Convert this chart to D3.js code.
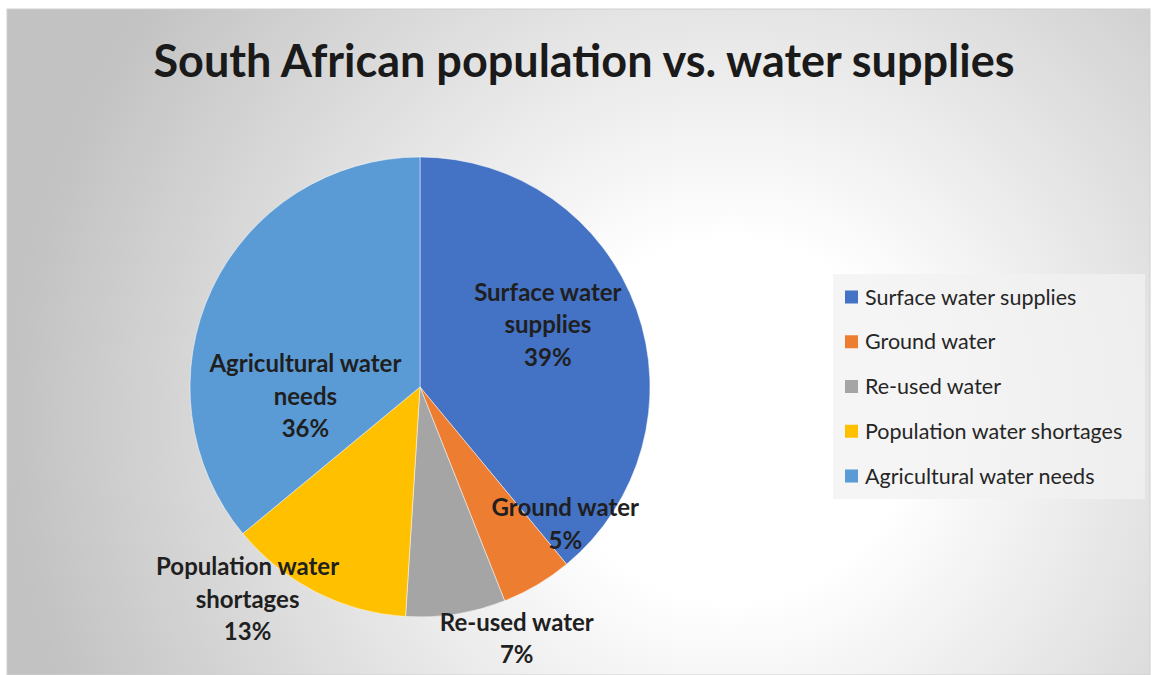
<!DOCTYPE html>
<html><head><meta charset="utf-8">
<script src="https://cdn.jsdelivr.net/npm/d3@7"></script>
<style>
html,body{margin:0;padding:0;background:#fff;}
svg{display:block;}
</style></head>
<body>
<svg id="chart" width="1152" height="675"></svg>
<script>
// ---- data ----
const categories = ["Surface water supplies","Ground water","Re-used water","Population water shortages","Agricultural water needs"];
const labelLines = [["Surface water","supplies"],["Ground water"],["Re-used water"],["Population water","shortages"],["Agricultural water","needs"]];
const values = [39, 5, 7, 13, 36];
const colors = ["#4472C4","#ED7D31","#A5A5A5","#FFC000","#5B9BD5"];
const title = "South African population vs. water supplies";

// ---- layout (label placement: radius in px, angle shift in degrees from slice middle) ----
const labelPlace = [
  {r:142, da:-6},
  {r:200, da:-16},
  {r:270, da:-12},
  {r:274, da:12},
  {r:115, da:-30}
];

const W = 1152, H = 675;
const svg = d3.select("#chart");
const defs = svg.append("defs");
const grad = defs.append("radialGradient").attr("id","bg")
  .attr("gradientUnits","userSpaceOnUse")
  .attr("cx",730).attr("cy",420).attr("r",720);
grad.append("stop").attr("offset","0%").attr("stop-color","#ffffff");
grad.append("stop").attr("offset","25%").attr("stop-color","#ffffff");
grad.append("stop").attr("offset","100%").attr("stop-color","#c2c2c2");

svg.append("rect").attr("x",7).attr("y",9).attr("width",1143).attr("height",666)
  .attr("fill","url(#bg)").attr("stroke","#d0d0d0").attr("stroke-width",1);

svg.append("text").attr("x",584).attr("y",77).attr("text-anchor","middle")
  .attr("font-family","Lato, 'Open Sans', sans-serif").attr("font-weight","bold")
  .attr("font-size",45).attr("fill","#1a1a1a").text(title);

const cx = 420, cy = 387, R = 230;
const pie = d3.pie().sort(null).value(d=>d)(values);
const arc = d3.arc().innerRadius(0).outerRadius(R);
const g = svg.append("g").attr("transform",`translate(${cx},${cy})`);
g.selectAll("path.slice").data(pie).join("path")
  .attr("class","slice").attr("d",arc)
  .attr("fill",(d,i)=>colors[i])
  .attr("stroke","rgba(255,255,255,0.6)").attr("stroke-width",0.8);

const fmt = d3.format(".0%");
const total = d3.sum(values);
pie.forEach((d,i)=>{
  const mid = (d.startAngle+d.endAngle)/2 + labelPlace[i].da*Math.PI/180;
  const r = labelPlace[i].r;
  const x = r*Math.sin(mid), y = -r*Math.cos(mid);
  const lines = labelLines[i].concat([fmt(values[i]/total)]);
  const lh = 32.5;
  const t = g.append("text").attr("text-anchor","middle")
    .attr("font-family","Lato, 'Open Sans', sans-serif").attr("font-weight","bold")
    .attr("font-size",24).attr("fill","#1f1f1f");
  lines.forEach((ln,k)=>{
    t.append("tspan").attr("x",x).attr("y",y + (k-(lines.length-1)/2)*lh + 8).text(ln);
  });
});

// legend
const lg = svg.append("g");
lg.append("rect").attr("x",833).attr("y",274).attr("width",312).attr("height",225)
  .attr("fill","#f2f2f2").attr("fill-opacity",0.75);
const rowY = d3.scalePoint().domain(categories).range([297,476]);
categories.forEach((c,i)=>{
  lg.append("rect").attr("x",845).attr("y",rowY(c)-6.5).attr("width",13).attr("height",13).attr("fill",colors[i]);
  lg.append("text").attr("x",865).attr("y",rowY(c)+7.5)
    .attr("font-family","Lato, 'Open Sans', sans-serif").attr("font-size",21.5)
    .attr("fill","#262626").text(c);
});
</script>
</body></html>
